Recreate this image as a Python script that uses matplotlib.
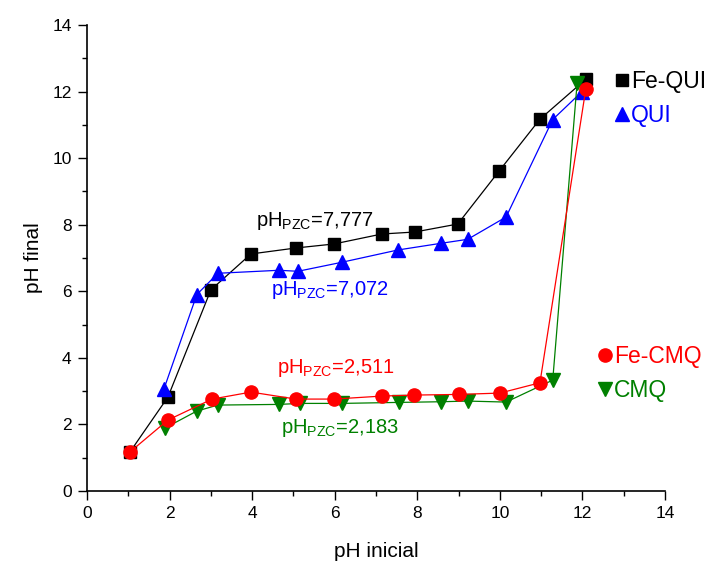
import matplotlib
matplotlib.use("Agg")
from matplotlib import pyplot as plt
from matplotlib.lines import Line2D
from matplotlib.ticker import MultipleLocator

plt.rcParams['font.family'] = ['Liberation Sans', 'DejaVu Sans']
plt.rcParams['mathtext.fontset'] = 'custom'
plt.rcParams['mathtext.rm'] = 'Liberation Sans'

# Fe-QUI (black squares)
fequi_x = [1.04, 1.96, 3.0, 3.97, 5.06, 5.98, 7.14, 7.94, 8.98, 9.98, 10.97, 12.08]
fequi_y = [1.17, 2.82, 6.04, 7.12, 7.3, 7.42, 7.72, 7.78, 8.02, 9.61, 11.17, 12.37]

# QUI (blue triangles)
qui_x = [1.86, 2.66, 3.17, 4.65, 5.11, 6.17, 7.53, 8.57, 9.22, 10.15, 11.28, 11.99]
qui_y = [3.05, 5.9, 6.54, 6.63, 6.6, 6.87, 7.24, 7.44, 7.56, 8.23, 11.16, 12.0]

# Fe-CMQ (red circles)
fecmq_x = [1.04, 1.96, 3.03, 3.97, 5.06, 5.98, 7.14, 7.92, 9.0, 10.0, 10.97, 12.08]
fecmq_y = [1.17, 2.13, 2.76, 2.97, 2.76, 2.76, 2.85, 2.88, 2.9, 2.94, 3.25, 12.07]

# CMQ (green down triangles)
cmq_x = [1.89, 2.66, 3.17, 4.65, 5.16, 6.17, 7.55, 8.57, 9.22, 10.15, 11.28, 11.87]
cmq_y = [1.89, 2.4, 2.58, 2.6, 2.63, 2.63, 2.66, 2.68, 2.7, 2.67, 3.33, 12.25]

pzc_labels = ["7,777", "7,072", "2,511", "2,183"]

fig = plt.figure(figsize=(7.09, 5.63), dpi=100)
ax = fig.add_axes([0.1227, 0.128, 0.8153, 0.8276])

ax.plot(fequi_x, fequi_y, color="black", lw=0.9, marker="s", ms=8, label="Fe-QUI")
ax.plot(qui_x, qui_y, color="blue", lw=0.9, marker="^", ms=9.5, label="QUI")
ax.plot(cmq_x, cmq_y, color="green", lw=0.9, marker="v", ms=9.5, label="CMQ")
ax.plot(fecmq_x, fecmq_y, color="red", lw=0.9, marker="o", ms=9.5, label="Fe-CMQ")

ax.text(4.1, 8.1, r"pH$_{\mathregular{PZC}}$=" + pzc_labels[0], color="black", fontsize=14.5, va="center")
ax.text(4.45, 6.05, r"pH$_{\mathregular{PZC}}$=" + pzc_labels[1], color="blue", fontsize=14.5, va="center")
ax.text(4.6, 3.7, r"pH$_{\mathregular{PZC}}$=" + pzc_labels[2], color="red", fontsize=14.5, va="center")
ax.text(4.7, 1.9, r"pH$_{\mathregular{PZC}}$=" + pzc_labels[3], color="green", fontsize=14.5, va="center")

ax.set_xlim(0, 14)
ax.set_ylim(0, 14)
ax.xaxis.set_major_locator(MultipleLocator(2))
ax.xaxis.set_minor_locator(MultipleLocator(1))
ax.yaxis.set_major_locator(MultipleLocator(2))
ax.yaxis.set_minor_locator(MultipleLocator(1))
ax.tick_params(which="major", direction="out", length=6.5, width=1, labelsize=12.5, pad=4.5)
ax.tick_params(which="minor", direction="out", length=3.6, width=1)
ax.spines["top"].set_visible(False)
ax.spines["right"].set_visible(False)
for s in ["left", "bottom"]:
    ax.spines[s].set_linewidth(1.2)
ax.set_xlabel("pH inicial", fontsize=15, labelpad=15)
ax.set_ylabel("pH final", fontsize=15, labelpad=7)

h1 = [Line2D([], [], color="black", marker="s", ms=8, ls="none"),
      Line2D([], [], color="blue", marker="^", ms=9.5, ls="none")]
leg1 = ax.legend(h1, ["Fe-QUI", "QUI"], loc="upper left", bbox_to_anchor=(0.915, 0.903),
                 frameon=False, fontsize=16.5, handlelength=0.55, handletextpad=0.12,
                 labelspacing=0.49, borderpad=0, borderaxespad=0, labelcolor="linecolor")
ax.add_artist(leg1)
h2 = [Line2D([], [], color="red", marker="o", ms=9.5, ls="none"),
      Line2D([], [], color="green", marker="v", ms=9.5, ls="none")]
ax.legend(h2, ["Fe-CMQ", "CMQ"], loc="upper left", bbox_to_anchor=(0.885, 0.313),
          frameon=False, fontsize=16.5, handlelength=0.55, handletextpad=0.12,
          labelspacing=0.49, borderpad=0, borderaxespad=0, labelcolor="linecolor")

fig.savefig("out.png", dpi=100)
